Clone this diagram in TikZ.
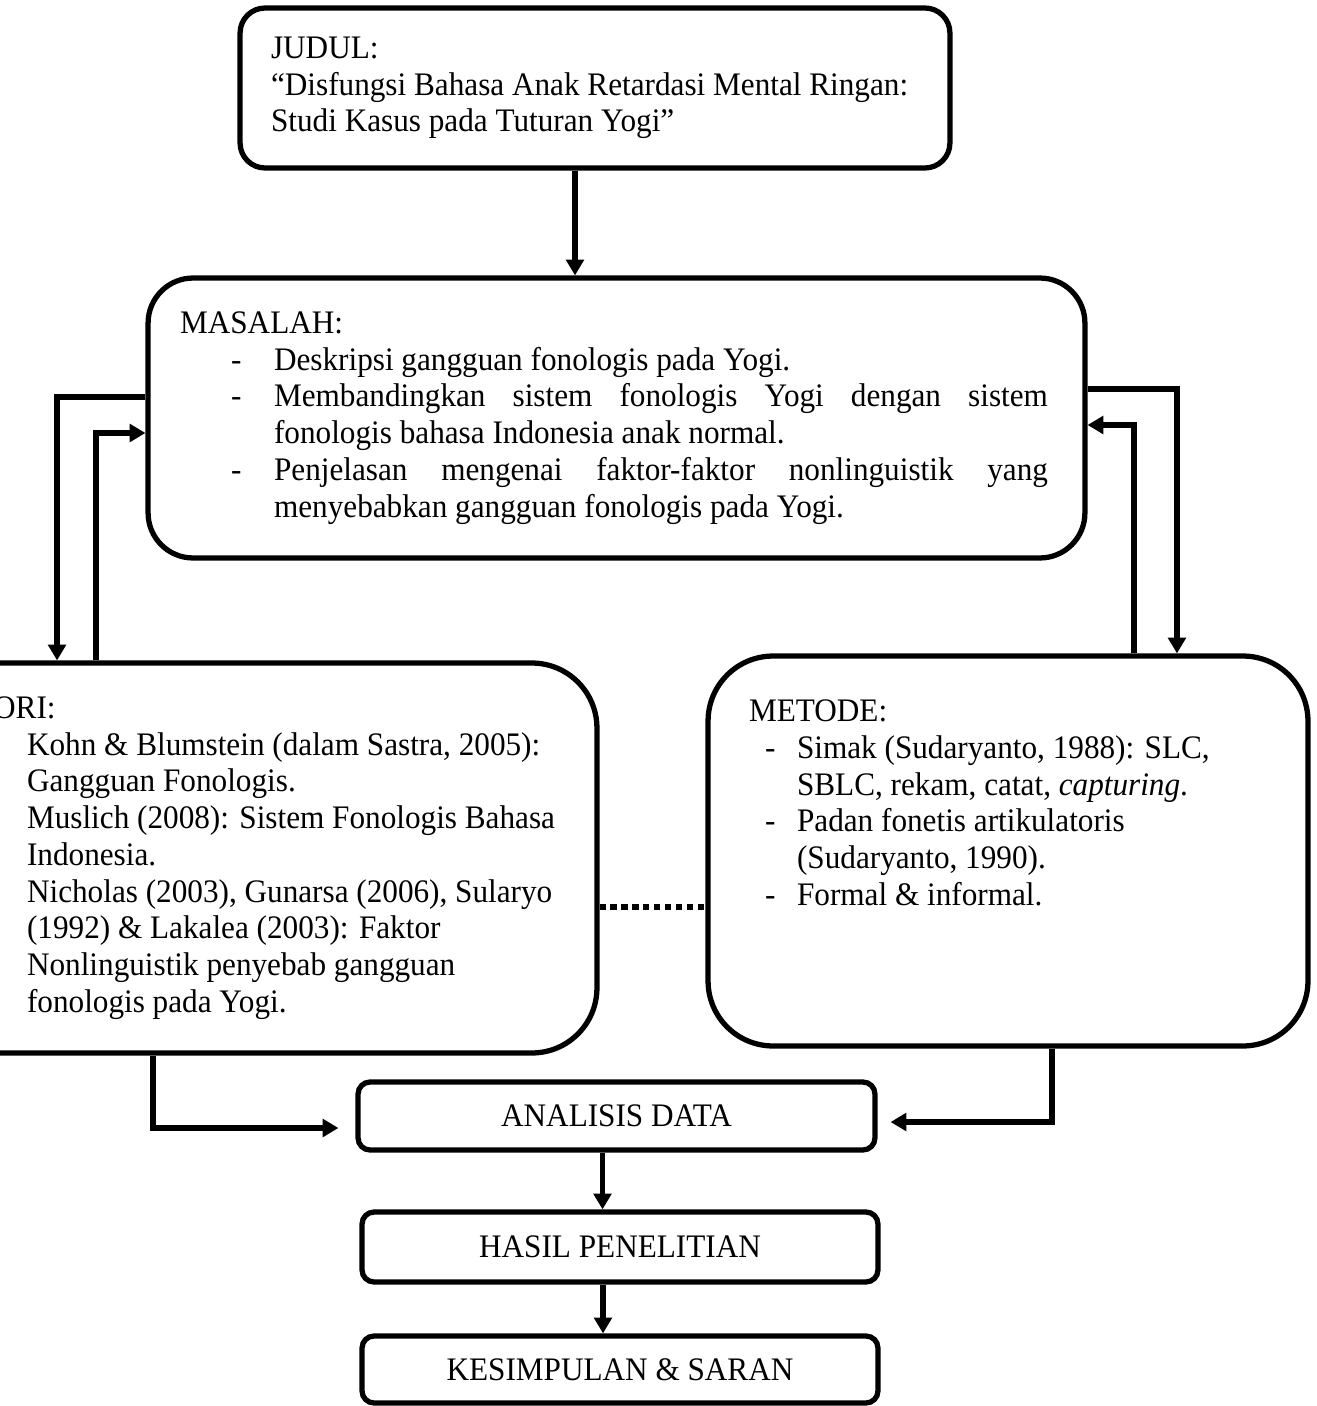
\documentclass[tikz,border=0pt]{standalone}
\usepackage{fontspec}
\setmainfont{Liberation Serif}[FakeStretch=0.95]
\usetikzlibrary{arrows.meta, positioning, calc}

\newcommand{\butir}[1]{\mbox{\hspace*{1.02cm}\makebox[0.86cm][l]{-}#1}}
\newcommand{\lanjut}[1]{\mbox{\hspace*{1.88cm}#1}}
\newcommand{\rata}[1]{\makebox[15.48cm][s]{#1}}
\newcommand{\geser}[1]{\mbox{\hspace*{1.16cm}#1}}
\newcommand{\metbutir}[1]{\mbox{\hspace*{0.32cm}\makebox[0.64cm][l]{-}#1}}
\newcommand{\metlanjut}[1]{\mbox{\hspace*{0.96cm}#1}}

\begin{document}
\begin{tikzpicture}[
    x=0.02cm, y=-0.02cm,
    font=\fontsize{18.7}{20.9}\selectfont,
    box/.style={draw, line width=3pt, inner sep=0pt},
    arrow/.style={-{Triangle[length=9pt, width=10pt]}, line width=3pt},
    dotline/.style={line width=3.4pt, dash pattern=on 3.6pt off 2.6pt}
]
\useasboundingbox (0,0) rectangle (1316,1406);
\clip (0,0) rectangle (1316,1406);

\node[box, rounded corners=0.5cm, minimum width=14.2cm, minimum height=3.2cm] (judul) at (595,88)
    {\parbox{12.96cm}{\raggedright JUDUL:\\“Disfungsi Bahasa Anak Retardasi Mental Ringan:\\Studi Kasus pada Tuturan Yogi”}};

\node[box, rounded corners=0.9cm, minimum width=18.74cm, minimum height=5.6cm] (masalah) at (616.5,418)
    {\parbox{17.46cm}{\raggedright MASALAH:\\
     \butir{Deskripsi gangguan fonologis pada Yogi.}\\
     \butir{\rata{Membandingkan sistem fonologis Yogi dengan sistem}}\\
     \lanjut{fonologis bahasa Indonesia anak normal.}\\
     \butir{\rata{Penjelasan mengenai faktor-faktor nonlinguistik yang}}\\
     \lanjut{menyebabkan gangguan fonologis pada Yogi.}}};

\node[box, rounded corners=1.3cm, minimum width=13.54cm, minimum height=7.8cm] (teori) at (258.5,858)
    {\parbox{11.58cm}{\raggedright \hspace*{-0.28cm}TEORI:\\
     \geser{Kohn \& Blumstein (dalam Sastra, 2005):}\\
     \geser{Gangguan Fonologis.}\\
     \geser{Muslich (2008): Sistem Fonologis Bahasa}\\
     \geser{Indonesia.}\\
     \geser{Nicholas (2003), Gunarsa (2006), Sularyo}\\
     \geser{(1992) \& Lakalea (2003): Faktor}\\
     \geser{Nonlinguistik penyebab gangguan}\\
     \geser{fonologis pada Yogi.}}};

\node[box, rounded corners=1.3cm, minimum width=12cm, minimum height=7.8cm] (metode) at (1008,851)
    {\parbox[c][6.04cm][t]{10.36cm}{\raggedright METODE:\\
     \metbutir{Simak (Sudaryanto, 1988): SLC,}\\
     \metlanjut{SBLC, rekam, catat, \textit{capturing}.}\\
     \metbutir{Padan fonetis artikulatoris}\\
     \metlanjut{(Sudaryanto, 1990).}\\
     \metbutir{Formal \& informal.}}};

\node[box, rounded corners=0.24cm, minimum width=10.34cm, minimum height=1.36cm] (analisis) at (616.5,1116) {ANALISIS DATA};
\node[box, rounded corners=0.24cm, minimum width=10.32cm, minimum height=1.4cm] (hasil) at (620,1247) {HASIL PENELITIAN};
\node[box, rounded corners=0.24cm, minimum width=10.32cm, minimum height=1.34cm] (kesimpulan) at (620,1369.5) {KESIMPULAN \& SARAN};

\draw[arrow] ([xshift=-0.4cm]judul.south) -- ([xshift=-0.4cm]judul.south |- masalah.north);
\draw[arrow] ([yshift=0.42cm]masalah.west) -| ([xshift=-4.03cm]teori.north);
\draw[arrow] ([xshift=-3.25cm]teori.north) |- ([yshift=-0.3cm]masalah.west);
\draw[arrow] ([yshift=0.58cm]masalah.east) -| ([xshift=3.38cm]metode.north);
\draw[arrow] ([xshift=2.52cm]metode.north) |- ([yshift=-0.14cm]masalah.east);
\draw[dotline] ([yshift=-0.98cm]teori.east) -- ([yshift=-0.98cm]teori.east -| metode.west);
\draw[arrow] ([xshift=-2.11cm]teori.south) |- ([xshift=-0.34cm, yshift=-0.24cm]analisis.west);
\draw[arrow] ([xshift=0.88cm]metode.south) |- ([xshift=0.26cm, yshift=-0.12cm]analisis.east);
\draw[arrow] ([xshift=-0.28cm]analisis.south) -- ([xshift=-0.28cm]analisis.south |- hasil.north);
\draw[arrow] ([xshift=-0.34cm]hasil.south) -- ([xshift=-0.34cm]hasil.south |- kesimpulan.north);
\end{tikzpicture}
\end{document}
